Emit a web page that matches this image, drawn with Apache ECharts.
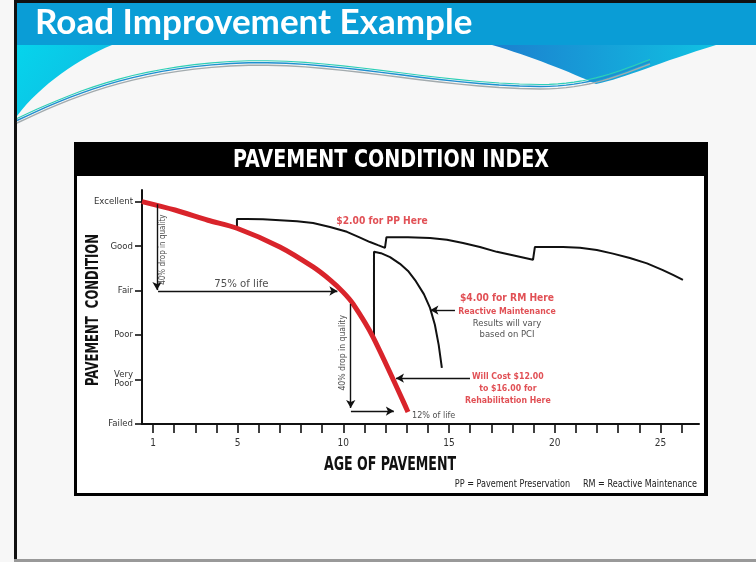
<!DOCTYPE html>
<html>
<head>
<meta charset="utf-8">
<script src="https://cdn.jsdelivr.net/npm/echarts@6/dist/echarts.min.js"></script>
<style>
html,body{margin:0;padding:0;background:#f7f7f7;}
#chart{width:756px;height:562px;}
</style>
</head>
<body>
<div id="chart"></div>
<script>
// ---- data ----
const conditionLevels = ['Failed', 'Very\nPoor', 'Poor', 'Fair', 'Good', 'Excellent'];
const conditionTicks = [0, 1, 2, 3, 4, 5];
const ageTicks = [1,2,3,4,5,6,7,8,9,10,11,12,13,14,15,16,17,18,19,20,21,22,23,24,25,26];
const ageLabels = [1, 5, 10, 15, 20, 25];

// unmaintained pavement (red)
const noMaintAge =       [0.48, 2.04, 3.60, 4.97, 7.00, 8.57, 9.37, 9.98, 10.46, 11.40, 13.06];
const noMaintCondition = [5.00, 4.81, 4.58, 4.40, 3.98, 3.53, 3.24, 2.97, 2.70, 1.96, 0.27];

// pavement preservation (PP)
const ppAge =       [4.97, 4.97, 5.44, 6.20, 7.00, 7.81, 8.57, 9.37, 10.17, 10.74, 11.26, 11.64, 11.97,
                     12.04, 13.06, 14.10, 14.90, 15.66, 16.46, 17.26, 18.12, 18.97,
                     19.06, 19.72, 20.39, 21.19, 21.99, 22.75, 23.55, 24.36, 25.11, 25.59, 26.06];
const ppCondition = [4.40, 4.61, 4.61, 4.60, 4.58, 4.56, 4.52, 4.43, 4.32, 4.20, 4.09, 4.02, 3.96,
                     4.20, 4.20, 4.18, 4.14, 4.07, 3.98, 3.87, 3.78, 3.69,
                     3.98, 3.98, 3.98, 3.96, 3.91, 3.83, 3.73, 3.61, 3.46, 3.35, 3.24];

// reactive maintenance (RM)
const rmAge =       [11.45, 11.45, 11.78, 12.21, 12.68, 13.06, 13.43, 13.81, 14.10, 14.33, 14.51, 14.66];
const rmCondition = [1.93, 3.87, 3.84, 3.75, 3.60, 3.44, 3.21, 2.92, 2.61, 2.23, 1.78, 1.26];

// annotation arrows: [fromAge, fromCond, toAge, toCond]
const arrowQualityDrop1 = [1.19, 4.94, 1.19, 3.01];
const arrowLife75 =       [1.24, 2.99, 9.72, 2.99];
const arrowQualityDrop2 = [10.35, 2.70, 10.35, 0.36];
const arrowLife12 =       [10.36, 0.29, 12.39, 0.29];
const arrowRehab =        [15.99, 1.03, 12.49, 1.03];
const arrowRM =           [15.28, 2.56, 14.12, 2.56];

// annotation texts: [age, condition, text]
const noteQuality1 = [1.48, 3.92, '40% drop in quality'];
const noteLife75 =   [5.18, 3.15, '75% of life'];
const notePP =       [11.83, 4.56, '$2.00 for PP Here'];
const noteRM =       [17.74, 2.45, '$4.00 for RM Here', 'Reactive Maintenance', 'Results will vary', 'based on PCI'];
const noteRehab =    [17.78, 0.79, 'Will Cost $12.00', 'to $16.00 for', 'Rehabilitation Here'];
const noteQuality2 = [9.99, 1.60, '40% drop in quality'];
const noteLife12 =   [13.25, 0.18, '12% of life'];

// ---- chart ----
const COND = '"DejaVu Sans Condensed", "Liberation Sans Narrow", "Liberation Sans", sans-serif';
const RED = '#d9242b';
const zip = (a, b) => a.map((v, i) => [v, b[i]]);
const arrow = a => [{coord: [a[0], a[1]]}, {coord: [a[2], a[3]]}];
const grad = (x2, y2, c1, c2) => ({type: 'linear', x: 0, y: 0, x2: x2, y2: y2, global: false,
  colorStops: [{offset: 0, color: c1}, {offset: 1, color: c2}]});
// sample a chain of cubic bezier segments (decoration only)
function bez(start, segs) {
  const pts = [start];
  let p0 = start;
  segs.forEach(s => {
    const [c1x, c1y, c2x, c2y, x, y] = s;
    for (let i = 1; i <= 16; i++) {
      const t = i / 16, u = 1 - t;
      pts.push([u*u*u*p0[0] + 3*u*u*t*c1x + 3*u*t*t*c2x + t*t*t*x,
                u*u*u*p0[1] + 3*u*u*t*c1y + 3*u*t*t*c2y + t*t*t*y]);
    }
    p0 = [x, y];
  });
  return pts;
}
function wave(dy) {
  return bez([17, 123 - dy], [[70, 98 - dy, 130, 72 - dy, 230, 66 - dy], [330, 60 - dy, 430, 88 - dy, 540, 89 - dy], [590, 89 - dy, 620, 75 - dy, 650, 64 - dy]]);
}

const chart = echarts.init(document.getElementById('chart'), null, {renderer: 'canvas'});

const option = {
  animation: false,
  backgroundColor: '#f7f7f7',
  graphic: [
    // slide frame
    {type: 'rect', z: -20, shape: {x: 14, y: 0, width: 3, height: 562}, style: {fill: '#111'}},
    {type: 'rect', z: -20, shape: {x: 14, y: 0, width: 742, height: 3}, style: {fill: '#111'}},
    {type: 'rect', z: -20, shape: {x: 14, y: 559, width: 742, height: 3}, style: {fill: '#999'}},
    {type: 'rect', z: -20, shape: {x: 17, y: 3, width: 739, height: 42}, style: {fill: '#0a9dd6'}},
    // wave decoration
    {type: 'polygon', z: -19, shape: {points: [[112, 45]].concat(bez([112, 45], [[80, 58, 40, 85, 17, 116]])).concat([[17, 45]])},
      style: {fill: grad(1, 1, '#06d4ec', '#10b8e0')}},
    {type: 'polygon', z: -19, shape: {points: [[492, 45], [716, 45]].concat(bez([716, 45], [[660, 62, 625, 78, 596, 84], [570, 72, 530, 56, 492, 45]]))},
      style: {fill: grad(1, 0, '#1c7fcf', '#10c2e2')}},
    {type: 'polyline', z: -18, shape: {points: wave(0)}, style: {fill: null, stroke: '#a3abae', lineWidth: 1.4}},
    {type: 'polyline', z: -18, shape: {points: wave(2.5)}, style: {fill: null, stroke: '#1e8fd0', lineWidth: 1.4}},
    {type: 'polyline', z: -18, shape: {points: wave(4.5)}, style: {fill: null, stroke: '#2dcfb6', lineWidth: 1.1}},
    // slide title
    {type: 'text', z: -17, style: {text: 'Road Improvement Example', x: 35, y: 23, textVerticalAlign: 'middle',
      font: 'bold 35px Lato, "Open Sans", sans-serif', fill: '#ffffff'}},
    // chart frame
    {type: 'rect', z: -16, shape: {x: 74, y: 142, width: 634, height: 354}, style: {fill: '#000'}},
    {type: 'rect', z: -15, shape: {x: 77, y: 176, width: 627, height: 317}, style: {fill: '#fff'}},
    {type: 'text', z: -14, x: 391, y: 160, scaleX: 0.85, style: {text: 'PAVEMENT CONDITION INDEX', x: 0, y: 0, textAlign: 'center', textVerticalAlign: 'middle',
      font: 'bold 25px ' + COND, fill: '#ffffff'}},
    {type: 'text', z: 10, x: 390, y: 465, scaleX: 0.7, style: {text: 'AGE OF PAVEMENT', x: 0, y: 0, textAlign: 'center', textVerticalAlign: 'middle',
      font: 'bold 20px ' + COND, fill: '#111'}},
    {type: 'text', z: 10, x: 93, y: 310, rotation: Math.PI / 2, scaleX: 0.72, style: {text: 'PAVEMENT  CONDITION', x: 0, y: 0, textAlign: 'center', textVerticalAlign: 'middle',
      font: 'bold 18px ' + COND, fill: '#111'}},
    {type: 'text', z: 10, x: 697, y: 484, scaleX: 0.9, style: {text: 'PP = Pavement Preservation     RM = Reactive Maintenance', x: 0, y: 0, textAlign: 'right', textVerticalAlign: 'middle',
      font: '10px ' + COND, fill: '#222'}}
  ],
  grid: {left: 142, top: 190, right: 57, bottom: 138, containLabel: false, outerBoundsMode: 'none'},
  xAxis: {
    type: 'value', min: 0.48, max: 26.82,
    axisLine: {show: true, lineStyle: {color: '#111', width: 2}},
    axisTick: {show: true, inside: false, length: 9, customValues: ageTicks, lineStyle: {color: '#111', width: 1.6}},
    axisLabel: {show: true, customValues: ageLabels, margin: 14, fontFamily: COND, fontSize: 10, color: '#333'},
    splitLine: {show: false}
  },
  yAxis: {
    type: 'value', min: 0, max: 5.26,
    axisLine: {show: true, lineStyle: {color: '#111', width: 2}},
    axisTick: {show: true, inside: false, length: 7, customValues: conditionTicks, lineStyle: {color: '#111', width: 1.6}},
    axisLabel: {show: true, customValues: conditionTicks, margin: 9, fontFamily: COND, fontSize: 9.5, color: '#333', lineHeight: 9,
      formatter: v => conditionLevels[Math.round(v)]},
    splitLine: {show: false}
  },
  series: [
    {type: 'line', name: 'PP', data: zip(ppAge, ppCondition), showSymbol: false, smooth: false,
      lineStyle: {color: '#111', width: 2}, z: 3},
    {type: 'line', name: 'RM', data: zip(rmAge, rmCondition), showSymbol: false, smooth: false,
      lineStyle: {color: '#111', width: 2}, z: 3},
    {type: 'line', name: 'No maintenance', data: zip(noMaintAge, noMaintCondition), showSymbol: false, smooth: 0.3,
      lineStyle: {color: RED, width: 5}, z: 4},
    {type: 'line', name: 'arrows', data: [], z: 5,
      markLine: {silent: true, animation: false, symbol: ['none', 'arrow'], symbolSize: [7, 8],
        label: {show: false}, lineStyle: {color: '#111', width: 1.4, type: 'solid'},
        data: [arrowQualityDrop1, arrowLife75, arrowQualityDrop2, arrowLife12, arrowRehab, arrowRM].map(arrow)}},
    {type: 'scatter', name: 'notes', symbolSize: 0, z: 6, silent: true,
      label: {show: true, position: 'inside', fontFamily: COND, color: '#222'},
      data: [
        {value: [noteQuality1[0], noteQuality1[1]], label: {formatter: noteQuality1[2], rotate: 90, fontSize: 8}},
        {value: [noteLife75[0], noteLife75[1]], label: {formatter: noteLife75[2], fontSize: 11.3}},
        {value: [notePP[0], notePP[1]], label: {formatter: notePP[2], fontSize: 10.2, fontWeight: 'bold', color: RED}},
        {value: [noteRM[0], noteRM[1]], label: {
          formatter: '{a|' + noteRM[2] + '}\n{b|' + noteRM[3] + '}\n{c|' + noteRM[4] + '}\n{c|' + noteRM[5] + '}',
          rich: {a: {fontFamily: COND, fontSize: 10.2, fontWeight: 'bold', color: RED, lineHeight: 16},
                 b: {fontFamily: COND, fontSize: 8.7, fontWeight: 'bold', color: RED, lineHeight: 12},
                 c: {fontFamily: COND, fontSize: 9.4, color: '#222', lineHeight: 11}}}},
        {value: [noteRehab[0], noteRehab[1]], label: {
          formatter: noteRehab.slice(2).map(s => '{a|' + s + '}').join('\n'),
          rich: {a: {fontFamily: COND, fontSize: 8.7, fontWeight: 'bold', color: RED, lineHeight: 12}}}},
        {value: [noteQuality2[0], noteQuality2[1]], label: {formatter: noteQuality2[2], rotate: 90, fontSize: 8.6}},
        {value: [noteLife12[0], noteLife12[1]], label: {formatter: noteLife12[2], fontSize: 9, align: 'left'}}
      ]}
  ]
};
chart.setOption(option);
</script>
</body>
</html>
